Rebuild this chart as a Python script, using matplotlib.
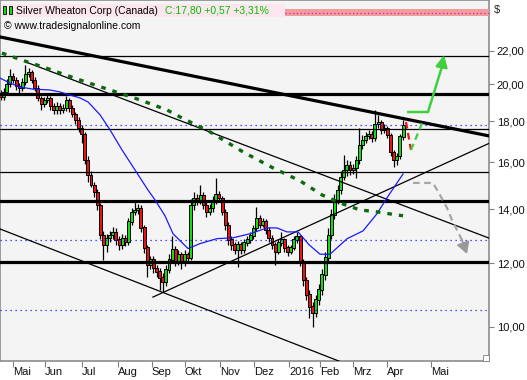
import numpy as np
import pandas as pd
import matplotlib
matplotlib.use("Agg")
from matplotlib import pyplot as plt
from matplotlib.patches import Rectangle
from matplotlib.ticker import FixedLocator, NullLocator, FuncFormatter

# two-day candles, 21 Apr 2015 - mid Apr 2016 (USD)
opens = [19.50, 19.29, 19.57, 20.02, 20.48, 20.25, 19.90, 19.79, 20.13, 20.60,
         20.72, 20.25, 19.79, 19.24, 18.91, 19.13, 19.24, 18.81, 18.59, 18.81,
         18.59, 18.70, 19.13, 18.70, 18.38, 18.07, 17.66, 17.36, 16.12, 15.44,
         15.01, 14.71, 14.17, 13.01, 12.65, 12.90, 13.01, 13.12, 12.83, 12.65,
         12.90, 12.76, 13.51, 13.89, 13.97, 14.05, 13.28, 12.54, 11.94, 12.12,
         11.84, 11.71, 11.51, 11.38, 11.78, 12.12, 12.47, 12.05, 12.29, 12.01,
         12.29, 12.19, 14.17, 14.46, 14.38, 14.58, 14.17, 13.89, 14.05, 14.38,
         14.62, 14.46, 13.89, 13.39, 12.83, 12.65, 12.47, 12.65, 12.47, 12.72,
         12.83, 12.98, 13.27, 13.66, 13.39, 13.51, 13.20, 12.90, 12.65, 12.40,
         12.72, 12.83, 12.54, 12.40, 12.54, 12.83, 12.94, 12.05, 11.44, 10.97,
         10.60, 10.42, 10.81, 11.12, 11.61, 12.19, 13.01, 13.78, 14.38, 14.79,
         15.35, 15.66, 15.89, 15.66, 15.75, 16.12, 16.82, 17.06, 17.26, 17.36,
         17.16, 17.86, 17.96, 17.56, 17.66, 17.31, 16.49, 16.12, 16.30, 17.23]
highs = [19.70, 19.80, 20.30, 20.90, 20.65, 20.45, 20.10, 20.35, 21.14, 20.95,
         20.85, 20.40, 19.95, 19.35, 19.30, 19.51, 19.35, 18.95, 19.00, 18.95,
         18.90, 19.35, 19.25, 18.85, 18.50, 18.20, 17.80, 17.45, 16.30, 15.60,
         15.15, 14.85, 14.25, 13.15, 13.05, 13.15, 13.31, 13.25, 12.95, 13.05,
         13.00, 13.65, 14.05, 14.27, 14.20, 14.15, 13.40, 12.65, 12.25, 12.25,
         11.95, 11.85, 11.65, 11.95, 12.30, 12.97, 12.60, 12.45, 12.40, 12.45,
         12.40, 14.40, 14.70, 14.60, 15.01, 14.70, 14.30, 14.20, 14.55, 15.30,
         14.75, 14.55, 14.00, 13.50, 12.95, 12.75, 12.80, 12.75, 12.85, 12.95,
         13.10, 13.40, 14.09, 13.75, 13.65, 13.60, 13.30, 13.00, 12.75, 12.85,
         13.12, 12.90, 12.65, 12.65, 12.95, 13.12, 13.00, 12.15, 11.55, 11.10,
         10.75, 10.95, 11.30, 11.80, 12.40, 13.25, 14.00, 14.60, 15.00, 15.60,
         16.35, 16.10, 16.05, 15.95, 16.30, 17.66, 17.30, 17.45, 17.55, 17.50,
         18.59, 18.30, 18.05, 17.85, 17.75, 17.40, 16.60, 16.45, 17.35, 18.07]
lows = [19.10, 19.15, 19.40, 19.85, 20.05, 19.70, 19.45, 19.60, 19.95, 20.40,
        20.05, 19.60, 19.05, 18.59, 18.75, 18.95, 18.60, 18.35, 18.40, 18.40,
        18.45, 18.55, 18.50, 18.20, 17.85, 17.45, 16.90, 15.95, 15.13, 14.90,
        14.50, 13.95, 12.85, 12.12, 12.40, 12.75, 12.85, 12.65, 12.45, 12.50,
        12.60, 12.65, 13.40, 13.75, 13.80, 13.10, 12.35, 11.55, 11.80, 11.65,
        11.55, 11.12, 11.06, 11.25, 11.65, 12.00, 11.90, 11.95, 11.80, 11.90,
        12.05, 12.10, 13.95, 14.15, 14.20, 14.00, 13.70, 13.75, 13.90, 14.20,
        14.30, 13.75, 13.20, 12.65, 12.45, 12.30, 11.87, 12.30, 12.35, 12.60,
        12.70, 12.85, 13.15, 13.25, 13.30, 13.05, 12.75, 12.50, 11.94, 12.30,
        12.60, 12.40, 12.25, 12.30, 12.45, 12.70, 11.90, 11.25, 10.80, 10.27,
        10.00, 10.30, 10.65, 10.95, 11.45, 12.00, 12.85, 13.60, 14.20, 14.60,
        15.20, 15.40, 15.45, 15.50, 15.31, 15.95, 16.65, 16.90, 17.10, 16.95,
        17.00, 17.65, 17.35, 17.40, 17.15, 16.30, 15.79, 15.90, 16.15, 17.05]
closes = [19.29, 19.57, 20.02, 20.48, 20.25, 19.90, 19.79, 20.13, 20.60, 20.72,
          20.25, 19.79, 19.24, 18.91, 19.13, 19.24, 18.81, 18.59, 18.81, 18.59,
          18.70, 19.13, 18.70, 18.38, 18.07, 17.66, 17.36, 16.12, 15.44, 15.01,
          14.71, 14.17, 13.01, 12.65, 12.90, 13.01, 13.12, 12.83, 12.65, 12.90,
          12.76, 13.51, 13.89, 13.97, 14.05, 13.28, 12.54, 11.94, 12.12, 11.84,
          11.71, 11.51, 11.38, 11.78, 12.12, 12.47, 12.05, 12.29, 12.01, 12.29,
          12.19, 14.17, 14.46, 14.38, 14.58, 14.17, 13.89, 14.05, 14.38, 14.62,
          14.46, 13.89, 13.39, 12.83, 12.65, 12.47, 12.65, 12.47, 12.72, 12.83,
          12.98, 13.27, 13.66, 13.39, 13.51, 13.20, 12.90, 12.65, 12.40, 12.72,
          12.83, 12.54, 12.40, 12.54, 12.83, 12.94, 12.05, 11.44, 10.97, 10.60,
          10.42, 10.81, 11.12, 11.61, 12.19, 13.01, 13.78, 14.38, 14.79, 15.35,
          15.66, 15.89, 15.66, 15.75, 16.12, 16.82, 17.06, 17.26, 17.36, 17.16,
          17.86, 17.96, 17.56, 17.66, 17.31, 16.49, 16.12, 16.30, 17.23, 17.80]

# moving averages (x = trading days after 1 May 2015)
ma_fast_x = [-8.3, -1.9, 4.5, 12.8, 23.7, 30.1, 36.5, 42.9, 48.1, 55.8, 62.2, 69.9,
             78.2, 86.5, 91.0, 97.4, 102.6, 112.2, 119.9, 130.8, 141.0, 151.9, 162.8,
             169.2, 175.6, 182.7, 189.7, 196.8, 203.2, 214.2, 224.4, 233.3, 239.7,
             246.2, 250.0]
ma_fast_y = [20.36, 20.07, 19.85, 19.73, 19.68, 19.57, 19.40, 19.24, 19.02, 18.33, 17.56,
             16.58, 15.66, 14.79, 14.38, 13.74, 13.05, 12.51, 12.69, 12.87, 12.90, 13.05,
             13.27, 13.27, 13.12, 13.12, 12.65, 12.31, 12.31, 12.87, 13.16, 13.82, 14.46,
             15.10, 15.48]
ma_slow_x = [-7.1, 9.0, 19.2, 30.1, 46.2, 62.2, 81.4, 98.7, 107.1, 126.3, 147.4, 166.7,
             184.0, 198.1, 211.5, 222.4, 234.0, 244.9, 250.0]
ma_slow_y = [21.87, 21.33, 21.02, 20.66, 20.15, 19.68, 19.13, 18.59, 18.22, 17.46, 16.49,
             15.75, 15.18, 14.58, 14.21, 13.97, 13.89, 13.78, 13.74]

thin_levels = [21.69, 17.61, 15.57]
thick_levels = [19.46, 14.33, 12.04]
dotted_levels = [17.80, 12.82, 10.51]

# trend lines: (x0, y0, x1, y1)
thick_trend = [(-8.3, 22.90, 305.1, 17.26)]
thin_trends = [(9.6, 21.27, 305.1, 12.89),
               (-8.3, 13.23, 216.0, 8.96),
               (89.7, 10.89, 305.8, 16.92)]

# projections
bear_x = [256.4, 269.2, 273.7, 278.2, 281.4, 284.6, 287.8]
bear_y = [15.09, 15.09, 14.58, 14.05, 13.57, 13.19, 12.82]
bear_tip = (291.0, 12.32)
bull_x = [252.6, 266.0, 274.5]
bull_y = [18.48, 18.48, 20.9]
bull_tip = (276.3, 21.75)
path_x = [251.9, 255.1, 262.8]
path_y = [17.96, 16.58, 18.01]

month_labels = ["Mai", "Jun", "Jul", "Aug", "Sep", "Okt", "Nov", "Dez", "2016",
                "Feb", "Mrz", "Apr", "Mai"]
month_pos = [0, 20.5, 44, 67, 89, 110, 133, 154.5, 177, 197, 218, 240, 268]
price_ticks = [10, 12, 14, 16, 18, 20, 22]

plt.rcParams["font.family"] = ["Liberation Sans", "DejaVu Sans"]

W, H = 527, 380
fig = plt.figure(figsize=(W / 100, H / 100), dpi=100)
fig.patch.set_facecolor("white")
ax = fig.add_axes([0, 19 / H, 489 / W, 361 / H])
ax.set_facecolor("#f4f4f4")
ax.set_yscale("log")
ax.set_xlim(-8.33, 305.1)
ax.set_ylim(9.073, 25.45)

dates = pd.bdate_range("2015-04-21", periods=len(closes), freq="2B")
pos = np.busday_count(np.datetime64("2015-05-01"), dates.values.astype("datetime64[D]"))
o = np.array(opens)
c = np.array(closes)
up = c >= o
col = np.where(up, "#11dd11", "#ee1111")
ax.vlines(pos, lows, highs, color="black", lw=0.9, zorder=2)
ax.bar(pos, np.abs(c - o) + 0.01, bottom=np.minimum(o, c), width=1.9, color=col,
       edgecolor="black", linewidth=0.7, zorder=3)

for lv in thin_levels:
    ax.axhline(lv, color="black", lw=0.9, zorder=4)
for lv in thick_levels:
    ax.axhline(lv, color="black", lw=2.3, zorder=4)
for lv in dotted_levels:
    ax.axhline(lv, color="#1a1aff", lw=0.9, dashes=(1, 3), zorder=4)

for x0, y0, x1, y1 in thick_trend:
    ax.plot([x0, x1], [y0, y1], color="black", lw=2.3, zorder=5)
for x0, y0, x1, y1 in thin_trends:
    ax.plot([x0, x1], [y0, y1], color="black", lw=0.9, zorder=5)

ax.plot(ma_fast_x, ma_fast_y, color="#1a1aff", lw=0.9, zorder=5)
ln, = ax.plot(ma_slow_x, ma_slow_y, color="#0b6b0b", lw=2.4, zorder=5)
ln.set_dashes([1.4, 2.1])

# projections
ax.plot(bear_x, bear_y, color="#a6a6a6", lw=1.6, dashes=(3, 2), zorder=6)
ax.annotate("", xy=bear_tip, xytext=(bear_x[-1], bear_y[-1]),
            arrowprops=dict(arrowstyle="-|>,head_length=0.7,head_width=0.4",
                            color="#999999", lw=1.2, shrinkA=0, shrinkB=0), zorder=6)
ax.plot(bull_x, bull_y, color="#3fcf3f", lw=1.8, zorder=6, solid_capstyle="butt")
ax.annotate("", xy=bull_tip, xytext=(bull_x[-1], bull_y[-1]),
            arrowprops=dict(arrowstyle="-|>,head_length=0.7,head_width=0.35",
                            color="#3fcf3f", lw=1.8, shrinkA=0, shrinkB=0), zorder=6)
ax.plot(path_x[:2], path_y[:2], color="#ee1111", lw=1.6, dashes=(3, 2), zorder=6)
ax.plot(path_x[1:], path_y[1:], color="#3fcf3f", lw=1.6, dashes=(3, 2), zorder=6)

# axes
ax.yaxis.tick_right()
ax.yaxis.set_major_locator(FixedLocator(price_ticks))
ax.yaxis.set_minor_locator(NullLocator())
ax.yaxis.set_major_formatter(FuncFormatter(lambda v, p: f"{v:.2f}".replace(".", ",")))
ax.xaxis.set_major_locator(FixedLocator(month_pos))
ax.set_xticklabels(month_labels)
ax.tick_params(axis="y", direction="out", length=3.5, width=0.8, color="#808080",
               labelsize=8, pad=2, labelcolor="#101010")
ax.tick_params(axis="x", direction="out", length=4, width=0.8, color="#808080",
               labelsize=8, pad=0.5, labelcolor="#101010")
for lab in ax.get_xticklabels():
    lab.set_horizontalalignment("left")
for sp in ax.spines.values():
    sp.set_color("#8c8c8c")
    sp.set_linewidth(1.2)

# header
tf = fig.transFigure
ax.add_patch(Rectangle((1 / W, 1 - 17 / H), 284 / W, 13 / H, transform=tf,
                       facecolor="#fde6ee", edgecolor="none", zorder=7, clip_on=False))
ax.add_patch(Rectangle((285 / W, 1 - 16 / H), 204 / W, 7 / H, transform=tf,
                       facecolor="#f59a9a", edgecolor="none", zorder=7, clip_on=False))
ax.plot([285 / W, 489 / W], [1 - 13 / H, 1 - 13 / H], transform=tf, color="#9933cc",
        lw=0.9, dashes=(1, 2), zorder=8, clip_on=False)
for x0 in (3, 9):
    ax.add_patch(Rectangle((x0 / W, 1 - 14 / H), 3 / W, 8 / H, transform=tf,
                           facecolor="#11dd11", edgecolor="black", lw=0.6, zorder=8,
                           clip_on=False))
ax.text(16 / W, 1 - 10.5 / H, "Silver Wheaton Corp (Canada)", transform=tf,
        fontsize=7.5, color="black", va="center", ha="left", zorder=9)
ax.text(165 / W, 1 - 10.5 / H, "C:17,80 +0,57 +3,31%", transform=tf,
        fontsize=7.5, color="#00c000", va="center", ha="left", zorder=9)
ax.text(4 / W, 1 - 26 / H, "\u00a9 www.tradesignalonline.com", transform=tf,
        fontsize=7.5, color="black", va="center", ha="left", zorder=9)
fig.text(494 / W, 1 - 10.5 / H, "$", fontsize=8, color="#202020", va="center", ha="left")

# resize grip
ax.add_patch(Rectangle((483 / W, 1 - 361 / H), 6 / W, 6 / H, transform=tf,
                       facecolor="white", edgecolor="#808080", lw=0.6, zorder=9,
                       clip_on=False))

fig.savefig("out.png", dpi=100)
